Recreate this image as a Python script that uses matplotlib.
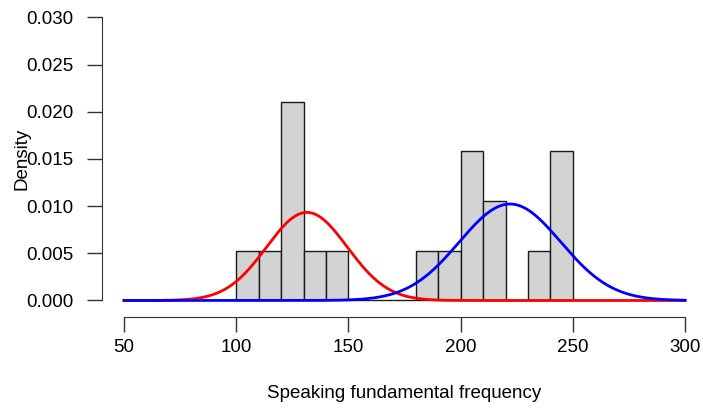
import numpy as np
import matplotlib
matplotlib.use("Agg")
import matplotlib.pyplot as plt

plt.rcParams['font.family'] = ['Liberation Sans', 'DejaVu Sans']

# Histogram bins (width 10) and their counts
bin_edges = [100, 110, 120, 130, 140, 150, 160, 170, 180, 190, 200, 210, 220, 230, 240, 250]
bin_counts = [1, 1, 4, 1, 1, 0, 0, 0, 1, 1, 3, 2, 0, 1, 3]

# Two fitted normal components: weight, mean, sd
comp_red = (8 / 19, 131.5, 18.0)
comp_blue = (11 / 19, 222.0, 22.6)

x_ticks = [50, 100, 150, 200, 250, 300]
y_ticks = [0.000, 0.005, 0.010, 0.015, 0.020, 0.025, 0.030]

W, H = 703, 411
fig = plt.figure(figsize=(W / 100, H / 100), dpi=100)

# Axes box in pixel coordinates
left_px, right_px = 101.6, 703.0
top_px, bottom_px = 0.8, 317.0
ax_w = right_px - left_px
ax_h = bottom_px - top_px
ax = fig.add_axes([left_px / W, 1 - bottom_px / H, ax_w / W, ax_h / H])
ax.set_xlim(40, 308)
ax.set_ylim(-0.00175, 0.03175)

n = sum(bin_counts)
edges = np.array(bin_edges, dtype=float)
widths = np.diff(edges)
dens = np.array(bin_counts) / (n * widths)
ax.bar(edges[:-1], dens, width=widths, align='edge', color='#d3d3d3',
       edgecolor='#1a1a1a', linewidth=1.0, zorder=2)

xs = np.linspace(50, 300, 600)
def comp_curve(c):
    w, m, s = c
    return w * np.exp(-0.5 * ((xs - m) / s) ** 2) / (s * np.sqrt(2 * np.pi))

ax.plot(xs, comp_curve(comp_red), color='#ff0000', lw=2.0, zorder=3)
ax.plot(xs, comp_curve(comp_blue), color='#0000ff', lw=2.0, zorder=4)

for sp in ax.spines.values():
    sp.set_visible(False)

# Detached axis lines spanning only the tick range
ax.spines['left'].set_visible(True)
ax.spines['left'].set_bounds(0, 0.03)
ax.spines['left'].set_color('#333333')
ax.spines['bottom'].set_visible(True)
ax.spines['bottom'].set_bounds(50, 300)
ax.spines['bottom'].set_color('#333333')

fs = 13.5
ax.set_xticks(x_ticks)
ax.set_xticklabels([str(v) for v in x_ticks])
ax.set_yticks(y_ticks)
ax.set_yticklabels([f"{v:.3f}" for v in y_ticks])
ax.tick_params(axis='both', length=11, width=1.0, color='#333333', labelsize=fs)
ax.tick_params(axis='x', pad=5)
ax.tick_params(axis='y', pad=9)

ax.set_xlabel('Speaking fundamental frequency', fontsize=fs, va='center')
ax.xaxis.set_label_coords(0.5 * (124 + 685) / 1 / 1 * 0 + (404.5 - left_px) / ax_w, (bottom_px - 393) / ax_h)
ax.set_ylabel('Density', fontsize=fs, va='center')
ax.yaxis.set_label_coords((22 - left_px) / ax_w, 0.5)

fig.savefig('out.png', dpi=100)
